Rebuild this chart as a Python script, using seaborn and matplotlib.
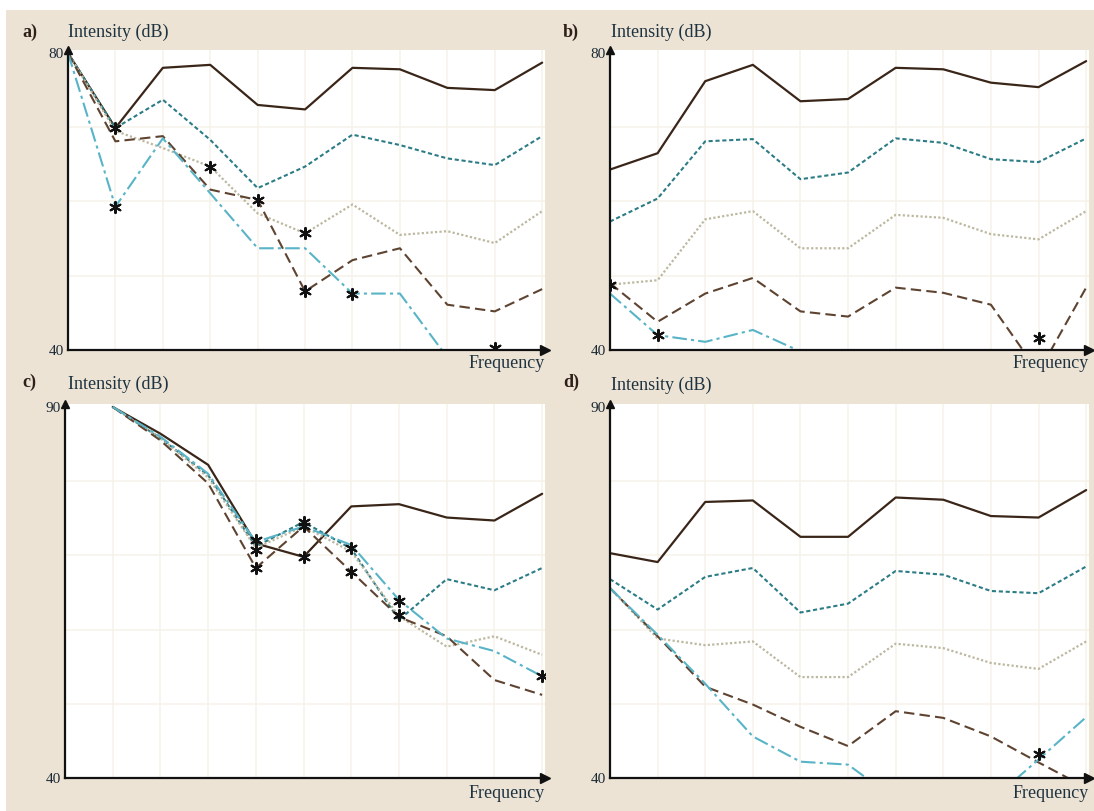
import numpy as np
import pandas as pd
import matplotlib
matplotlib.use("Agg")
import matplotlib.pyplot as plt
import seaborn as sns
from matplotlib.patches import Rectangle

# ---------------- data (frequency index 0..10) ----------------
freq_idx = list(range(11))
series_names = ["solid", "dotted", "faint", "dashed", "dashdot"]
nan = np.nan

a_solid   = [80, 69.9, 78.0, 78.4, 73.0, 72.4, 78.0, 77.8, 75.3, 75.0, 78.7]
a_dotted  = [80, 69.9, 73.7, 68.3, 61.8, 64.7, 69.0, 67.6, 65.8, 64.9, 68.8]
a_faint   = [80, 69.5, 67.2, 64.7, 58.4, 55.7, 59.6, 55.5, 56.0, 54.4, 58.7]
a_dashed  = [80, 68.1, 68.8, 61.6, 60.2, 47.9, 52.1, 53.7, 46.1, 45.2, 48.2]
a_dashdot = [80, 59.3, 68.5, 61.1, 53.7, 53.7, 47.6, 47.6, 39.0, 38.0, 37.0]
a_star_x  = [1, 1, 3, 4, 5, 5, 6, 9]
a_star_y  = [69.9, 59.3, 64.7, 60.2, 55.7, 47.9, 47.6, 40.3]

b_solid   = [64.3, 66.5, 76.2, 78.4, 73.5, 73.8, 78.0, 77.8, 76.0, 75.4, 78.9]
b_dotted  = [57.3, 60.4, 68.1, 68.4, 63.0, 63.9, 68.5, 67.9, 65.7, 65.3, 68.5]
b_faint   = [48.8, 49.4, 57.6, 58.7, 53.7, 53.7, 58.2, 57.8, 55.6, 54.9, 58.7]
b_dashed  = [49.0, 43.8, 47.6, 49.7, 45.2, 44.5, 48.4, 47.7, 46.1, 37.0, 48.4]
b_dashdot = [47.6, 42.0, 41.1, 42.7, 39.8, 38.0, nan, nan, nan, nan, nan]
b_star_x  = [0, 1, 9]
b_star_y  = [48.8, 42.0, 41.6]

c_solid   = [nan, 90, 86.4, 82.2, 71.6, 69.8, 76.6, 76.9, 75.1, 74.7, 78.3]
c_dotted  = [nan, 90, 85.8, 80.8, 71.2, 74.5, 70.9, 61.3, 66.8, 65.3, 68.3]
c_faint   = [nan, 90, 85.8, 80.5, 71.0, 73.9, 70.5, 61.8, 57.7, 59.1, 56.6]
c_dashed  = [nan, 90, 85.5, 79.7, 68.3, 73.9, 67.8, 61.7, 59.1, 53.2, 51.2]
c_dashdot = [nan, 90, 86.0, 81.0, 71.8, 73.9, 71.4, 64.0, 58.8, 57.1, 53.7]
c_star_x  = [4, 4, 4, 5, 5, 5, 6, 6, 7, 7, 10]
c_star_y  = [72.1, 70.7, 68.3, 74.5, 73.9, 69.8, 71.0, 67.8, 63.9, 62.0, 53.7]

d_solid   = [70.3, 69.1, 77.2, 77.4, 72.5, 72.5, 77.8, 77.5, 75.3, 75.1, 78.8]
d_dotted  = [66.8, 62.7, 67.1, 68.3, 62.3, 63.5, 67.9, 67.4, 65.2, 64.9, 68.5]
d_faint   = [65.6, 58.8, 57.9, 58.4, 53.6, 53.6, 58.1, 57.5, 55.5, 54.7, 58.4]
d_dashed  = [65.6, 59.1, 52.3, 49.9, 46.9, 44.3, 49.0, 48.1, 45.6, 42.1, 38.7]
d_dashdot = [65.6, 59.3, 52.7, 45.6, 42.2, 41.8, 37.1, 36.0, 36.9, 42.5, 48.2]
d_star_x  = [9]
d_star_y  = [43.2]

panel_labels = ["a)", "b)", "c)", "d)"]
y_label = "Intensity (dB)"
x_label = "Frequency"

# ---------------- styling ----------------
palette = {"solid": "#3a2619", "dotted": "#2c7c86", "faint": "#bdb8a0",
           "dashed": "#5e4331", "dashdot": "#58b4c6"}
dashes = {"solid": "", "dotted": (2, 1.3), "faint": (1, 1),
          "dashed": (5, 2.5), "dashdot": (7, 2, 1.5, 2)}
sizes = {"solid": 1.6, "dotted": 1.5, "faint": 1.6, "dashed": 1.5, "dashdot": 1.5}

sns.set_style("white")
plt.rcParams["font.family"] = ["Liberation Serif", "DejaVu Serif"]

W, H = 1094, 811
fig = plt.figure(figsize=(W / 100, H / 100), dpi=100, facecolor="white")
fig.patches.append(Rectangle((6 / W, 0), 1, 1 - 10 / H, transform=fig.transFigure,
                             facecolor="#ece3d5", edgecolor="none", zorder=-10))

panels = [
    dict(data=[a_solid, a_dotted, a_faint, a_dashed, a_dashdot], sx=a_star_x, sy=a_star_y,
         px=(68, 545), py=(50, 350), ylim=(40, 80.4), lab=(22, 32), ylab=(68, 32), ytop=80),
    dict(data=[b_solid, b_dotted, b_faint, b_dashed, b_dashdot], sx=b_star_x, sy=b_star_y,
         px=(610, 1089), py=(50, 350), ylim=(40, 80.4), lab=(563, 32), ylab=(611, 32), ytop=80),
    dict(data=[c_solid, c_dotted, c_faint, c_dashed, c_dashdot], sx=c_star_x, sy=c_star_y,
         px=(65, 545), py=(404, 778), ylim=(40, 90.4), lab=(22, 382), ylab=(68, 384), ytop=90),
    dict(data=[d_solid, d_dotted, d_faint, d_dashed, d_dashdot], sx=d_star_x, sy=d_star_y,
         px=(610, 1089), py=(404, 778), ylim=(40, 90.4), lab=(563, 382), ylab=(611, 385), ytop=90),
]

for i, p in enumerate(panels):
    x0, x1 = p["px"]
    y0, y1 = p["py"]
    ax = fig.add_axes([x0 / W, 1 - y1 / H, (x1 - x0) / W, (y1 - y0) / H])
    ax.set_facecolor("white")

    rows = []
    for name, vals in zip(series_names, p["data"]):
        for xi, v in zip(freq_idx, vals):
            rows.append((xi, v, name))
    df = pd.DataFrame(rows, columns=["x", "v", "s"])
    sns.lineplot(data=df, x="x", y="v", hue="s", style="s", size="s",
                 palette=palette, dashes=dashes, sizes=sizes,
                 hue_order=series_names, style_order=series_names, size_order=series_names,
                 legend=False, errorbar=None, ax=ax, zorder=3)
    sns.scatterplot(x=p["sx"], y=p["sy"], marker=(6, 2, 0), color="#111111", s=64,
                    linewidth=1.5, ax=ax, zorder=5, legend=False)

    ax.set_xlim(0, 10.06)
    ax.set_ylim(*p["ylim"])
    ax.set_xlabel("")
    ax.set_ylabel("")
    ax.set_xticks([])
    ax.set_xticks(range(1, 11), minor=True)
    ax.set_yticks([40, p["ytop"]])
    ax.set_yticklabels(["40", str(p["ytop"])])
    ax.set_yticks(list(range(50, p["ytop"], 10)), minor=True)
    ax.tick_params(axis="both", which="both", length=0)
    ax.tick_params(axis="y", labelsize=11, pad=3, labelcolor="#1c2a36")
    ax.grid(True, which="minor", color="#f6f1e9", lw=1.1)
    ax.grid(False, which="major")
    for side in ("top", "right"):
        ax.spines[side].set_visible(False)
    for side in ("left", "bottom"):
        ax.spines[side].set_color("#111111")
        ax.spines[side].set_linewidth(1.6)
        ax.spines[side].set_zorder(6)
    ax.plot(1, 0, ">", color="#111111", ms=7, transform=ax.transAxes, clip_on=False, zorder=7)
    ax.plot(0, 1, "^", color="#111111", ms=6, transform=ax.transAxes, clip_on=False, zorder=7)
    ax.text(1.0, -0.018, x_label, transform=ax.transAxes, ha="right", va="top",
            fontsize=13, color="#1e3340")

    fig.text(p["lab"][0] / W, 1 - p["lab"][1] / H, panel_labels[i], ha="left", va="center",
             fontsize=13, fontweight="bold", color="#2e2018")
    fig.text(p["ylab"][0] / W, 1 - p["ylab"][1] / H, y_label, ha="left", va="center",
             fontsize=13, color="#1e3340")

fig.savefig("out.png", dpi=100, facecolor=fig.get_facecolor())
